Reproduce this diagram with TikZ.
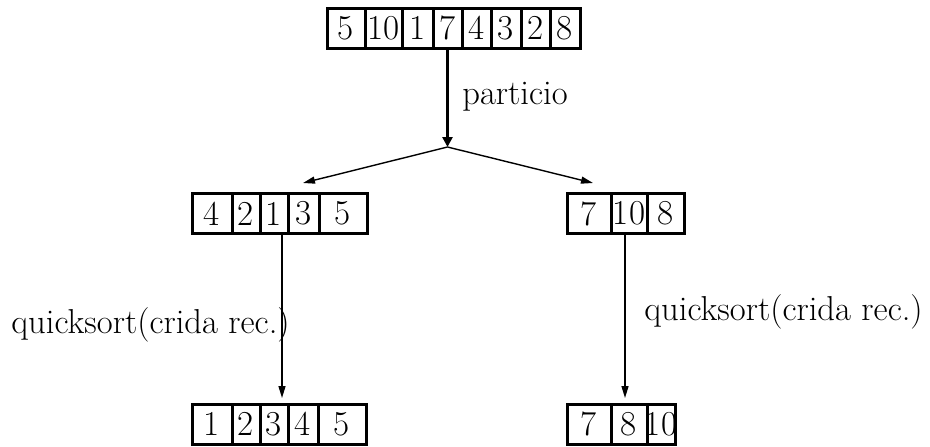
\documentclass[tikz,border=0pt]{standalone}
\usetikzlibrary{arrows.meta}

\begin{document}
\begin{tikzpicture}[x=0.5pt,y=-0.5pt,
  cell/.style={draw,line width=1.5pt,inner sep=0pt,minimum height=20pt,
    font=\fontsize{17.5}{20}\selectfont},
  lbl/.style={inner sep=0pt,font=\fontsize{17.3}{20}\selectfont},
  thin/.style={line width=0.7pt,-{Triangle[length=6pt,width=3.5pt]}},
  thick/.style={line width=1.5pt,-{Triangle[length=5pt,width=5pt]}}]
  \useasboundingbox (0,0) rectangle (930,446);
  % vectors: left edge / right edge / value
  \foreach \l/\r/\v [count=\i] in {327/365/5,365/402/10,402/433/1,433/462/7,
      462/491/4,491/521/3,521/550/2,550/580/8}{
    \pgfmathsetmacro\w{(\r-\l)/2}
    \node[cell,minimum width=\w pt] (t\i) at ({(\l+\r)/2},28) {\makebox[0pt]{\v}};}
  \foreach \l/\r/\v [count=\i] in {192/232/4,232/260/2,260/288/1,288/319/3,319/367/5}{
    \pgfmathsetmacro\w{(\r-\l)/2}
    \node[cell,minimum width=\w pt] (l\i) at ({(\l+\r)/2},213.5) {\makebox[0pt]{\v}};}
  \foreach \l/\r/\v [count=\i] in {567/611/7,611/647/10,647/684/8}{
    \pgfmathsetmacro\w{(\r-\l)/2}
    \node[cell,minimum width=\w pt] (r\i) at ({(\l+\r)/2},213.5) {\makebox[0pt]{\v}};}
  \foreach \l/\r/\v [count=\i] in {192/232/1,232/260/2,260/288/3,288/318/4,318/366/5}{
    \pgfmathsetmacro\w{(\r-\l)/2}
    \node[cell,minimum width=\w pt] (sl\i) at ({(\l+\r)/2},424) {\makebox[0pt]{\v}};}
  \foreach \l/\r/\v [count=\i] in {567/611/7,611/647/8,647/675/10}{
    \pgfmathsetmacro\w{(\r-\l)/2}
    \node[cell,minimum width=\w pt] (sr\i) at ({(\l+\r)/2},424) {\makebox[0pt]{\v}};}

  % partition step
  \coordinate (split) at (447.5,147);
  \coordinate (ltip) at (303,183);
  \coordinate (rtip) at (593,183);
  \draw[thick] (t4) -- (split);
  \draw[thin] (split) -- (ltip);
  \draw[thin] (split) -- (rtip);
  \node[lbl,anchor=base west] (part) at (462,104) {particio};

  % recursive calls
  \coordinate (ldown) at (282,398);
  \coordinate (rdown) at (625,398);
  \draw[thin] (l3.south -| ldown) -- (ldown);
  \draw[thin] (r2.south -| rdown) -- (rdown);
  \node[lbl,anchor=base west] (lrec) at (11,333) {quicksort(crida rec.)};
  \node[lbl,anchor=base west] (rrec) at (644,320) {quicksort(crida rec.)};
\end{tikzpicture}
\end{document}
